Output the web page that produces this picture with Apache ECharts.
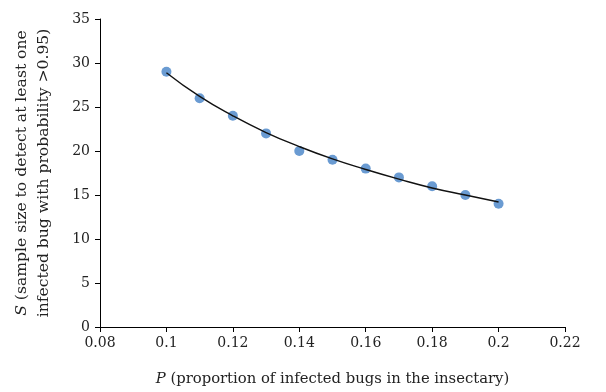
<!DOCTYPE html>
<html><head><meta charset="utf-8">
<script src="https://cdn.jsdelivr.net/npm/echarts@6/dist/echarts.min.js"></script>
<style>html,body{margin:0;padding:0;background:#fff}#c{width:606px;height:392px}</style>
</head><body><div id="c"></div>
<script>
var pValues = [0.10, 0.11, 0.12, 0.13, 0.14, 0.15, 0.16, 0.17, 0.18, 0.19, 0.20];
var sValues = [29, 26, 24, 22, 20, 19, 18, 17, 16, 15, 14];
var trendValues = [28.9, 26.2, 24.0, 22.1, 20.5, 19.1, 17.9, 16.8, 15.8, 15.0, 14.2];
var xTicks = [0.08, 0.1, 0.12, 0.14, 0.16, 0.18, 0.2, 0.22];
var yTicks = [0, 5, 10, 15, 20, 25, 30, 35];

var font = "'DejaVu Serif','Liberation Serif',serif";
var chart = echarts.init(document.getElementById('c'));
chart.setOption({
  animation: false,
  backgroundColor: '#fff',
  grid: {left: 100, right: 41, top: 19, bottom: 65, containLabel: false, outerBoundsMode: 'none'},
  xAxis: {
    type: 'value', min: 0.08, max: 0.22, interval: 0.02,
    axisLine: {show: true, lineStyle: {color: '#000', width: 1}},
    axisTick: {show: true, length: 5, lineStyle: {color: '#000'}},
    splitLine: {show: false},
    axisLabel: {color: '#222', fontFamily: font, fontSize: 14, margin: 9,
      formatter: function (v) { return parseFloat(v.toFixed(2)).toString(); }},
    name: '{i|P} (proportion of infected bugs in the insectary)',
    nameLocation: 'middle', nameGap: 45,
    nameTextStyle: {color: '#222', fontFamily: font, fontSize: 14.8,
      rich: {i: {fontStyle: 'italic', fontFamily: font, fontSize: 14.8, color: '#222'}}}
  },
  yAxis: {
    type: 'value', min: 0, max: 35, interval: 5,
    axisLine: {show: true, lineStyle: {color: '#000', width: 1}},
    axisTick: {show: true, length: 5, lineStyle: {color: '#000'}},
    splitLine: {show: false},
    axisLabel: {color: '#222', fontFamily: font, fontSize: 14, margin: 10},
    name: '{i|S} (sample size to detect at least one\ninfected bug with probability >0.95)',
    nameLocation: 'middle', nameGap: 45,
    nameTextStyle: {color: '#222', fontFamily: font, fontSize: 15.6, lineHeight: 22,
      rich: {i: {fontStyle: 'italic', fontFamily: font, fontSize: 15.6, color: '#222', lineHeight: 22}}}
  },
  series: [
    {
      type: 'line', data: pValues.map(function (p, i) { return [p, trendValues[i]]; }),
      smooth: true, showSymbol: false, symbol: 'none',
      lineStyle: {color: '#111', width: 1.4}, z: 3
    },
    {
      type: 'scatter', data: pValues.map(function (p, i) { return [p, sValues[i]]; }),
      symbol: 'circle', symbolSize: 10,
      itemStyle: {color: '#6a9bd2', opacity: 1}, z: 2
    }
  ]
});
</script></body></html>
